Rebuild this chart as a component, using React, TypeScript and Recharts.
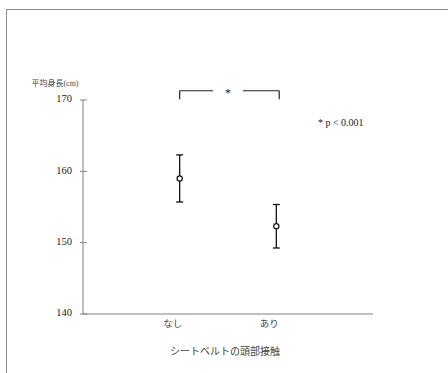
import React from 'react';
import {
  ComposedChart,
  Scatter,
  XAxis,
  YAxis,
  ErrorBar,
  ReferenceLine,
  ReferenceDot,
} from 'recharts';

const categories = ['なし', 'あり'];
const categoryPositions = [1, 2];
const means = [159.0, 152.3];
const errors = [3.3, 3.05];
const yTicks = [140, 150, 160, 170];
const yLabel = '平均身長(cm)';
const xLabel = 'シートベルトの頭部接触';
const bracketX = [1, 2.03];
const bracketGap = [1.345, 1.655];
const bracketY = [170.1, 171.3];
const sigMark = '*';
const sigNote = '* p < 0.001';
const sigNotePos = { x: 2.43, y: 166.8 };

const data = categoryPositions.map((x, i) => ({ x, y: means[i], err: errors[i], name: categories[i] }));

const SERIF = 'Liberation Serif, DejaVu Serif, serif';
const CJK = 'Liberation Serif, Noto Sans CJK JP, serif';
const AXIS = '#808080';

const YTick = (props: any) => {
  const { x, y, payload } = props;
  return (
    <g>
      <line x1={x - 3} x2={x + 4} y1={y} y2={y} stroke={AXIS} strokeWidth={1} />
      <text x={x - 11} y={y - 1.5} dy="0.35em" textAnchor="end" fontFamily={SERIF} fontSize={10.5} fill="#222">
        {payload.value}
      </text>
    </g>
  );
};

const XTick = (props: any) => {
  const { x, y, payload } = props;
  const idx = categoryPositions.indexOf(payload.value);
  return (
    <text x={x - 7} y={y + 10} dy="0.35em" textAnchor="middle" fontFamily={CJK} fontSize={9.5} fill="#444">
      {categories[idx]}
    </text>
  );
};

const Circle = (props: any) => {
  const { cx, cy } = props;
  return <circle cx={cx} cy={cy} r={2.6} fill="#fff" stroke="#111" strokeWidth={1.2} />;
};

export default function App() {
  return (
    <div style={{ position: 'absolute', left: 0, top: 0, width: 448, height: 373, background: '#fff', overflow: 'hidden' }}>
      <div
        style={{
          position: 'absolute',
          left: 6,
          top: 9,
          width: 600,
          height: 600,
          borderLeft: '1.3px solid #888',
          borderTop: '1.3px solid #888',
        }}
      />
      <ComposedChart
        width={448}
        height={373}
        margin={{ top: 100, right: 75, bottom: 29, left: 43 }}
        style={{ position: 'absolute', left: 0, top: 0 }}
      >
        <XAxis
          type="number"
          dataKey="x"
          domain={[0, 3]}
          ticks={categoryPositions}
          tick={<XTick />}
          tickLine={false}
          tickSize={0}
          tickMargin={0}
          height={30}
          stroke={AXIS}
          axisLine={{ stroke: AXIS, strokeWidth: 1 }}
          label={{ value: xLabel, position: 'bottom', offset: 4, dx: -3, fontSize: 10, fontFamily: CJK, fill: '#444' }}
        />
        <YAxis
          type="number"
          dataKey="y"
          domain={[140, 170]}
          ticks={yTicks}
          tick={<YTick />}
          tickLine={false}
          tickSize={0}
          tickMargin={0}
          width={40}
          axisLine={{ stroke: AXIS, strokeWidth: 1 }}
          label={{ value: yLabel, position: 'top', offset: 14, dx: -8, fontSize: 8, fontFamily: CJK, fill: '#444' }}
        />
        <Scatter data={data} isAnimationActive={false} shape={<Circle />}>
          <ErrorBar dataKey="err" direction="y" width={3.5} stroke="#111" strokeWidth={1.3} />
        </Scatter>
        <ReferenceLine
          segment={[{ x: bracketX[0], y: bracketY[0] }, { x: bracketX[0], y: bracketY[1] }]}
          stroke="#222"
          strokeWidth={1.2}
          ifOverflow="visible"
        />
        <ReferenceLine
          segment={[{ x: bracketX[0], y: bracketY[1] }, { x: bracketGap[0], y: bracketY[1] }]}
          stroke="#222"
          strokeWidth={1.2}
          ifOverflow="visible"
        />
        <ReferenceLine
          segment={[{ x: bracketGap[1], y: bracketY[1] }, { x: bracketX[1], y: bracketY[1] }]}
          stroke="#222"
          strokeWidth={1.2}
          ifOverflow="visible"
        />
        <ReferenceLine
          segment={[{ x: bracketX[1], y: bracketY[1] }, { x: bracketX[1], y: bracketY[0] }]}
          stroke="#222"
          strokeWidth={1.2}
          ifOverflow="visible"
        />
        <ReferenceDot
          x={(bracketGap[0] + bracketGap[1]) / 2}
          y={bracketY[1]}
          r={0}
          fill="none"
          stroke="none"
          ifOverflow="visible"
          label={{ value: sigMark, position: 'center', dy: 2, fontSize: 12, fontFamily: SERIF, fill: '#222', stroke: 'none' }}
        />
        <ReferenceDot
          x={sigNotePos.x}
          y={sigNotePos.y}
          r={0}
          fill="none"
          stroke="none"
          ifOverflow="visible"
          label={{ value: sigNote, position: 'right', offset: 0, fontSize: 10, fontFamily: SERIF, fill: '#222', stroke: 'none' }}
        />
      </ComposedChart>
    </div>
  );
}
